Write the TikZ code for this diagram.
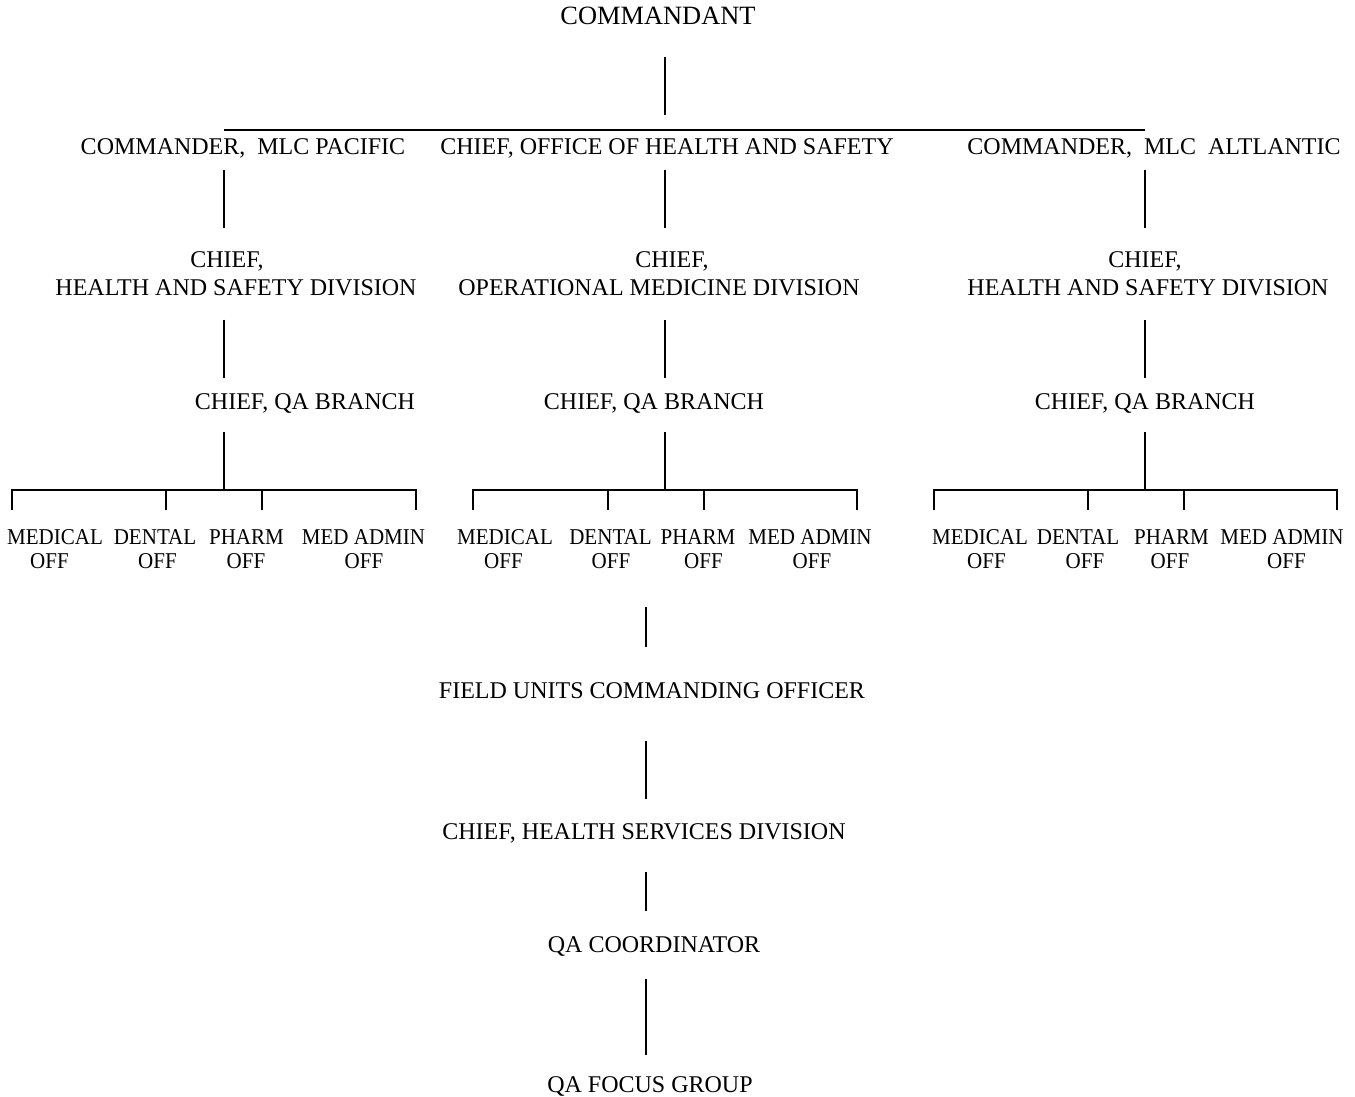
\documentclass[tikz,border=0pt]{standalone}
\usepackage{fontspec}
\setmainfont{Liberation Serif}
\newfontfamily\offfont[FakeStretch=0.93]{Liberation Serif}
\usetikzlibrary{calc}
\newcommand\lnshift[2]{\hspace*{#1pt}#2\hspace*{-#1pt}}
\begin{document}
\begin{tikzpicture}[x=1pt,y=-1pt,
  every node/.style={inner sep=0pt,font=\fontsize{24}{28}\selectfont},
  one/.style={anchor=base,text height=17pt,text depth=5pt},
  two/.style={anchor=north,align=center},
  offbox/.style={anchor=north,align=center,font=\offfont\fontsize{22.6}{24}\selectfont},
  ln/.style={line width=1.3pt,line cap=butt}]
\useasboundingbox (0,0) rectangle (1355,1097);
% column coordinates
\coordinate (cL) at (224,0);
\coordinate (cM) at (665,0);
\coordinate (cR) at (1145,0);
\coordinate (cF) at (646,0);
% nodes
\node[one,font=\fontsize{26.4}{30}\selectfont] (cmdt) at (658,25) {COMMANDANT};
\node[one] (pac) at (243,155) {COMMANDER,\ \ MLC PACIFIC};
\node[one] (ohs) at (667,155) {CHIEF, OFFICE OF HEALTH AND SAFETY};
\node[one] (atl) at (1154,155) {COMMANDER,\ \ MLC\ \ ALTLANTIC};
\node[two] (hsL) at (236,251) {\lnshift{-9}{CHIEF,}\\HEALTH AND SAFETY DIVISION};
\node[two] (omd) at (659,251) {\lnshift{13}{CHIEF,}\\OPERATIONAL MEDICINE DIVISION};
\node[two] (hsR) at (1148,251) {\lnshift{-3}{CHIEF,}\\HEALTH AND SAFETY DIVISION};
\node[one] (qaL) at (305,409) {CHIEF, QA BRANCH};
\node[one] (qaM) at (654,409) {CHIEF, QA BRANCH};
\node[one] (qaR) at (1145,409) {CHIEF, QA BRANCH};
% offices
\foreach \n/\x/\d/\t in {L1/55/-5.5/MEDICAL,L2/155/2.5/DENTAL,L3/246.5/-0.5/PHARM,L4/363.5/0.5/MED ADMIN,
                      M1/505/-1.5/MEDICAL,M2/610.5/0.5/DENTAL,M3/698/5.5/PHARM,M4/810/2/MED ADMIN,
                      R1/980/6.5/MEDICAL,R2/1078/7/DENTAL,R3/1171.5/-1.5/PHARM,R4/1282/4.5/MED ADMIN}
  \node[offbox] (off\n) at (\x,529) {\t\\\lnshift{\d}{OFF}};
\node[one] (fuco) at (652,698) {FIELD UNITS COMMANDING OFFICER};
\node[one] (hsd) at (644,839) {CHIEF, HEALTH SERVICES DIVISION};
\node[one] (qac) at (654,952) {QA COORDINATOR};
\node[one] (qfg) at (650,1092) {QA FOCUS GROUP};
% top bus
\coordinate (busL) at (224,130);
\coordinate (busR) at (1145,130);
\draw[ln] ($(cmdt.south -| cM)+(0,27)$) -- ($(cM |- busL)+(0,-15)$);
\draw[ln] (busL) -- (busR);
% column connectors
\foreach \c/\a/\b/\q in {cL/pac/hsL/qaL,cM/ohs/omd/qaM,cR/atl/hsR/qaR}{
  \draw[ln] ($(\a.south -| \c)+(0,10)$) -- ($(\b.north -| \c)+(0,-23)$);
  \draw[ln] ($(\b.south -| \c)+(0,24)$) -- ($(\q.north -| \c)+(0,-14)$);
  \draw[ln] ($(\q.south -| \c)+(0,18)$) -- ($(\q.south -| \c)+(0,76)$);
}
% office brackets
\foreach \g/\xa/\xb/\xc/\xd in {L/12/166/262/416,M/473/608/704/857,R/934/1088/1184/1337}{
  \coordinate (b\g1) at (\xa,490);
  \coordinate (b\g4) at (\xd,490);
  \draw[ln] ($(b\g1)+(0,20)$) -- (b\g1) -- (b\g4) -- ($(b\g4)+(0,20)$);
  \draw[ln] (\xb,490) -- (\xb,510);
  \draw[ln] (\xc,490) -- (\xc,510);
}
% lower chain
\draw[ln] ($(fuco.north -| cF)+(0,-74)$) -- ($(fuco.north -| cF)+(0,-34)$);
\draw[ln] ($(fuco.south -| cF)+(0,38)$) -- ($(hsd.north -| cF)+(0,-23)$);
\draw[ln] ($(hsd.south -| cF)+(0,28)$) -- ($(qac.north -| cF)+(0,-24)$);
\draw[ln] ($(qac.south -| cF)+(0,22)$) -- ($(qfg.north -| cF)+(0,-20)$);
\end{tikzpicture}
\end{document}
